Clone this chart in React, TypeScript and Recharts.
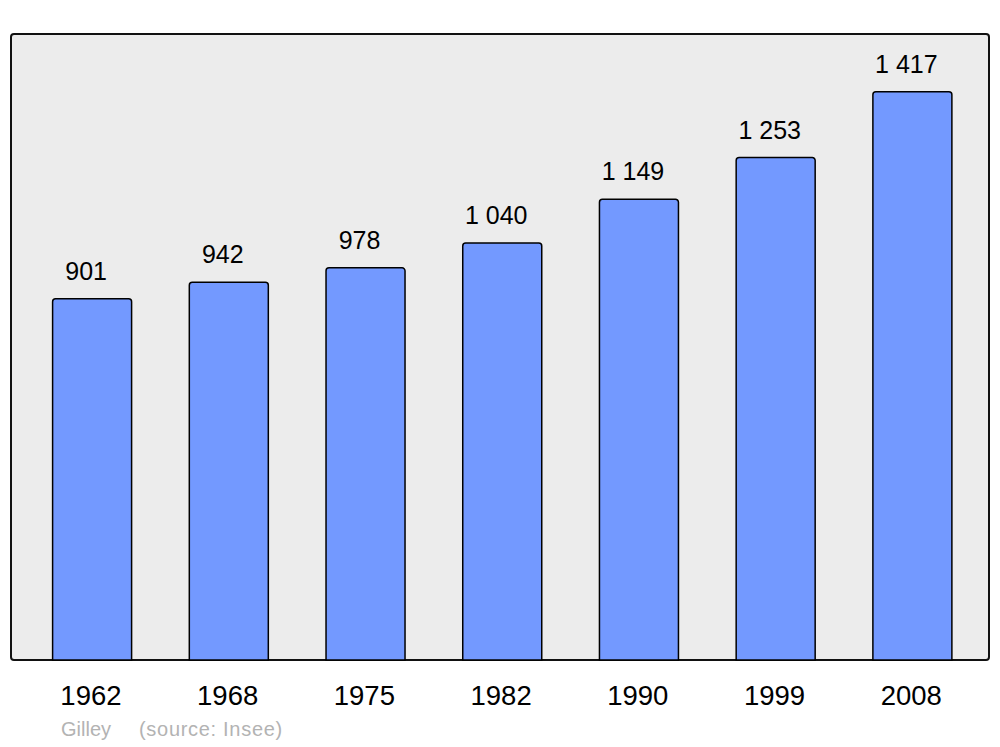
import React from 'react';
import { BarChart, Bar, XAxis, YAxis, LabelList } from 'recharts';

const years = ['1962', '1968', '1975', '1982', '1990', '1999', '2008'];
const population = [901, 942, 978, 1040, 1149, 1253, 1417];

const data = years.map((year, i) => ({ year, pop: population[i] }));

const FONT = '"Liberation Sans", Arial, sans-serif';

// thousands separated by a space, as in the original ("1 417")
const fmt = (v: number) => String(v).replace(/\B(?=(\d{3})+(?!\d))/g, ' ');

const ValueLabel = (props: any) => {
  const { x, y, width, value } = props;
  return (
    <text
      x={x + width / 2 - 6}
      y={y - 19}
      textAnchor="middle"
      fontSize={25}
      fontFamily={FONT}
      fill="#000"
    >
      {fmt(value)}
    </text>
  );
};

const YearTick = (props: any) => {
  const { x, y, payload } = props;
  return (
    <text
      x={x - 1}
      y={y}
      textAnchor="middle"
      fontSize={27.5}
      fontFamily={FONT}
      fill="#000"
    >
      {payload.value}
    </text>
  );
};

export default function App() {
  return (
    <div style={{ position: 'absolute', left: 0, top: 0, width: 1000, height: 747, background: '#fff', fontFamily: FONT }}>
      {/* plot frame */}
      <div
        style={{
          position: 'absolute',
          left: 10,
          top: 33,
          width: 980,
          height: 628,
          boxSizing: 'border-box',
          border: '2.5px solid #111',
          borderRadius: 4,
          background: '#ececec',
        }}
      />
      <div style={{ position: 'absolute', left: 0, top: 0 }}>
        <BarChart
          width={1000}
          height={747}
          data={data}
          margin={{ top: 34, right: 11, left: 11, bottom: 47 }}
        >
          <XAxis
            dataKey="year"
            height={40}
            axisLine={false}
            tickLine={false}
            tickSize={0}
            tickMargin={45}
            padding={{ left: 12.6, right: 8.4 }}
            tick={<YearTick />}
            interval={0}
          />
          <YAxis hide domain={[0, 1561]} />
          <Bar
            dataKey="pop"
            fill="#7399ff"
            stroke="#000"
            strokeWidth={1.5}
            barSize={79}
            radius={[3, 3, 0, 0]}
            isAnimationActive={false}
          >
            <LabelList dataKey="pop" content={ValueLabel} />
          </Bar>
        </BarChart>
      </div>
      <div style={{ position: 'absolute', left: 61, top: 718, fontSize: 20, color: '#b3b3b3', whiteSpace: 'pre' }}>
        Gilley
      </div>
      <div style={{ position: 'absolute', left: 139, top: 718, fontSize: 20, letterSpacing: 0.7, color: '#b3b3b3', whiteSpace: 'pre' }}>
        (source: Insee)
      </div>
    </div>
  );
}
